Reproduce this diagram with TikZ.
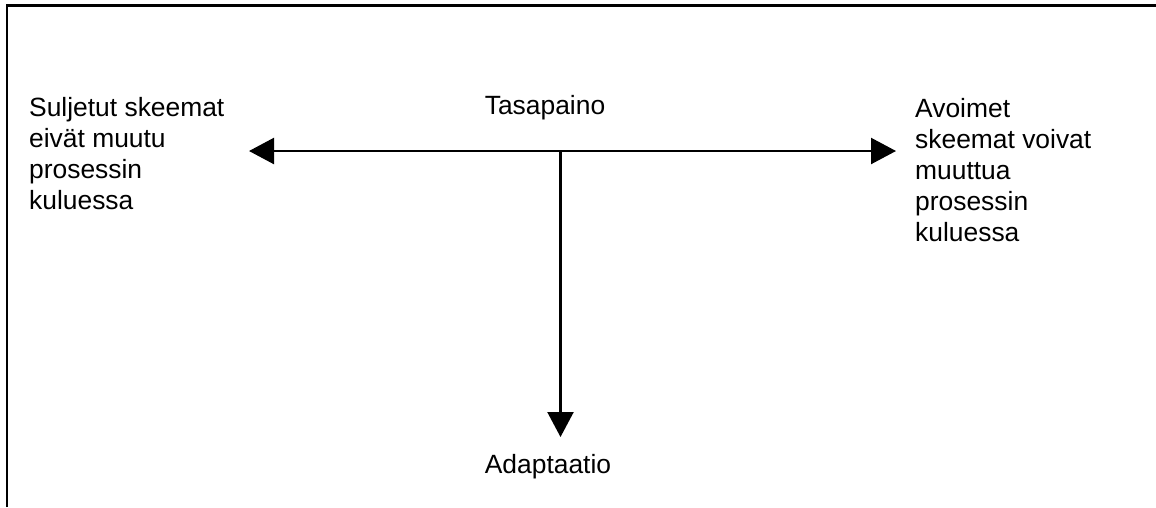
\documentclass[tikz,border=0pt]{standalone}
\usepackage{fontspec}
\setmainfont{Liberation Sans}
\usetikzlibrary{arrows.meta,positioning}

\begin{document}
\begin{tikzpicture}[x=1pt,y=-1pt,>={Triangle[length=25pt 0,width=26pt 0]},
  every node/.style={inner sep=0pt,font=\fontsize{26.4}{31}\selectfont},
  skeema/.style={align=left,anchor=north west}]
   \useasboundingbox (0,0) rectangle (1156,507);
   \draw[line width=2.7pt] (7,507) -- (7,5.3) -- (1156,5.3);

   \coordinate (mid) at (560.5,151);
   \coordinate (vasen) at (249,151);
   \coordinate (oikea) at (896,151);
   \coordinate (ala) at (560.5,437);

   \node[skeema] (suljetut) at (29,97) {Suljetut skeemat\\eivät muutu\\prosessin\\kuluessa};
   \node[skeema] (avoimet) at (915,98) {Avoimet\\skeemat voivat\\muuttua\\prosessin\\kuluessa};
   \node[anchor=base] (tasapaino) at (545,114) {Tasapaino};
   \node[anchor=base] (adaptaatio) at (548,473) {Adaptaatio};

   \path[->,line width=2.3pt]
   (mid) edge (vasen)
         edge (oikea)
         edge (ala);
\end{tikzpicture}
\end{document}
